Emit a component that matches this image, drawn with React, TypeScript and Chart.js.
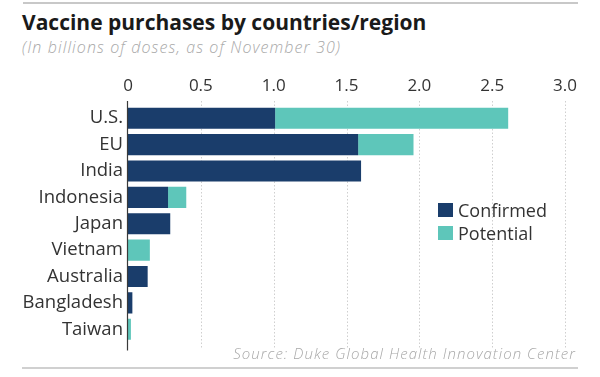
import React, { useEffect, useRef } from "react";
import { Chart, registerables } from "chart.js";

Chart.register(...registerables);

const categories = ["U.S.", "EU", "India", "Indonesia", "Japan", "Vietnam", "Australia", "Bangladesh", "Taiwan"];
const confirmed = [1.01, 1.58, 1.6, 0.275, 0.29, 0, 0.135, 0.03, 0];
const potential = [1.6, 0.38, 0, 0.125, 0, 0.15, 0, 0, 0.02];
const tickValues = [0, 0.5, 1.0, 1.5, 2.0, 2.5, 3.0];
const tickLabels = ["0", "0.5", "1.0", "1.5", "2.0", "2.5", "3.0"];
const seriesNames = ["Confirmed", "Potential"];
const seriesColors = ["#1a3d6b", "#5ec6ba"];

const FONT = "'Open Sans', Lato, sans-serif";

const axisLines = {
  id: "axisLines",
  beforeDatasetsDraw(chart: any) {
    const { ctx, chartArea, scales } = chart;
    const x = scales.x;
    ctx.save();
    ctx.strokeStyle = "#cfcfcf";
    ctx.lineWidth = 1;
    ctx.setLineDash([1.5, 2]);
    tickValues.forEach((v) => {
      if (v === 0) return;
      const px = Math.round(x.getPixelForValue(v)) + 0.5;
      ctx.beginPath();
      ctx.moveTo(px, chartArea.top - 4);
      ctx.lineTo(px, chartArea.bottom + 6);
      ctx.stroke();
    });
    ctx.restore();
  },
  afterDatasetsDraw(chart: any) {
    const { ctx, chartArea, scales } = chart;
    const x = scales.x;
    ctx.save();
    ctx.strokeStyle = "#3a3a3a";
    ctx.lineWidth = 1.2;
    const px = Math.round(x.getPixelForValue(0)) - 0.5;
    ctx.beginPath();
    ctx.moveTo(px, chartArea.top - 4);
    ctx.lineTo(px, chartArea.bottom + 8);
    ctx.stroke();
    ctx.restore();
  },
};

export default function App() {
  const canvasRef = useRef<HTMLCanvasElement | null>(null);

  useEffect(() => {
    if (!canvasRef.current) return;
    const chart = new Chart(canvasRef.current, {
      type: "bar",
      data: {
        labels: categories,
        datasets: [
          {
            label: seriesNames[0],
            data: confirmed,
            backgroundColor: seriesColors[0],
            borderWidth: 0,
            barPercentage: 0.8,
            categoryPercentage: 1,
          },
          {
            label: seriesNames[1],
            data: potential,
            backgroundColor: seriesColors[1],
            borderWidth: 0,
            barPercentage: 0.8,
            categoryPercentage: 1,
          },
        ],
      },
      options: {
        indexAxis: "y",
        responsive: false,
        animation: false,
        devicePixelRatio: 1,
        layout: { padding: { left: 0, right: 35, top: 0, bottom: 34.5 } },
        plugins: {
          legend: { display: false },
          tooltip: { enabled: false },
          title: { display: false },
        },
        scales: {
          x: {
            type: "linear",
            position: "top",
            stacked: true,
            min: 0,
            max: 3,
            afterBuildTicks: (scale: any) => {
              scale.ticks = tickValues.map((v) => ({ value: v }));
            },
            afterFit: (scale: any) => {
              scale.height = 105;
            },
            grid: { display: false, drawTicks: false },
            border: { display: false },
            ticks: {
              padding: 9,
              color: "#333",
              font: { family: FONT, size: 17, weight: "normal" },
              callback: (_v: any, i: number) => tickLabels[i],
            },
          },
          y: {
            type: "category",
            stacked: true,
            afterFit: (scale: any) => {
              scale.width = 128;
            },
            grid: { display: false, drawTicks: false },
            border: { display: false },
            ticks: {
              padding: 5,
              color: "#333",
              font: { family: FONT, size: 18.5, weight: "normal" },
            },
          },
        },
      },
      plugins: [axisLines],
    } as any);
    return () => chart.destroy();
  }, []);

  const abs = (s: React.CSSProperties): React.CSSProperties => ({ position: "absolute", ...s });

  return (
    <div
      style={{
        position: "fixed",
        left: 0,
        top: 0,
        width: 600,
        height: 377,
        background: "#fff",
        fontFamily: FONT,
        overflow: "hidden",
      }}
    >
      <div style={abs({ left: 23, top: 2, width: 555, height: 2, background: "#c8c8c8" })} />
      <div
        style={abs({
          left: 22,
          top: 10,
          fontSize: 21,
          lineHeight: 1.2,
          fontWeight: 700,
          color: "#1a1a1a",
          whiteSpace: "nowrap",
        })}
      >
        Vaccine purchases by countries/region
      </div>
      <div
        style={abs({
          left: 22,
          top: 38,
          fontSize: 16,
          lineHeight: 1.2,
          letterSpacing: 1.1,
          fontStyle: "italic",
          fontWeight: 300,
          color: "#a8a8a8",
          whiteSpace: "nowrap",
        })}
      >
        (In billions of doses, as of November 30)
      </div>
      <canvas ref={canvasRef} width={600} height={377} style={abs({ left: 0, top: 0 })} />
      {seriesNames.map((name, i) => (
        <div key={name} style={abs({ left: 438, top: 199 + i * 23, height: 22, display: "flex", alignItems: "center" })}>
          <div style={{ width: 15, height: 14, background: seriesColors[i], marginRight: 5 }} />
          <div style={{ fontSize: 18, lineHeight: "22px", color: "#333", whiteSpace: "nowrap" }}>{name}</div>
        </div>
      ))}
      <div
        style={abs({
          right: 24,
          top: 344,
          fontSize: 15,
          lineHeight: 1.2,
          letterSpacing: 1.05,
          fontStyle: "italic",
          fontWeight: 300,
          color: "#a8a8a8",
          whiteSpace: "nowrap",
        })}
      >
        Source: Duke Global Health Innovation Center
      </div>
      <div style={abs({ left: 22, top: 367, width: 556, height: 1.5, background: "#d0d0d0" })} />
    </div>
  );
}
